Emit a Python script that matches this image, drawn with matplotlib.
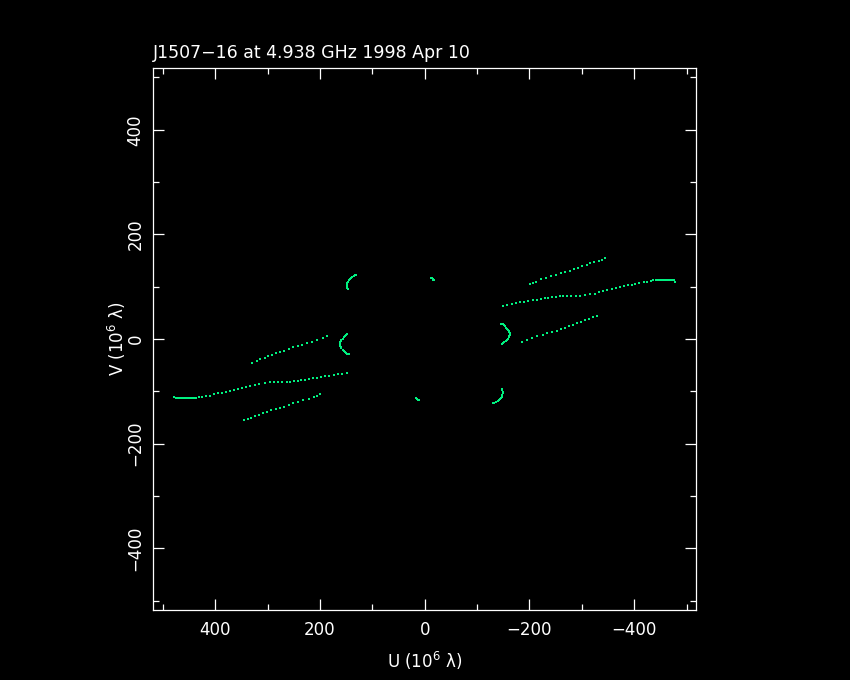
import matplotlib
matplotlib.use("Agg")
import matplotlib.pyplot as plt
import numpy as np
from matplotlib.ticker import MultipleLocator

plt.rcParams['font.family'] = ['DejaVu Sans']

title = "J1507\u221216 at 4.938 GHz 1998 Apr 10"
xlabel = "U (10$^{6}$ \u03bb)"
ylabel = "V (10$^{6}$ \u03bb)"

# UV tracks (one half; the conjugate half is (-u, -v)), units of 10^6 lambda
long_u = [478, 476, 474, 471, 468, 465, 462, 459, 456, 453, 450, 447, 444, 441, 436,
          432, 425, 418, 410, 402, 395, 388, 380, 372,
          365, 357, 349, 341, 333, 325, 316, 306, 296, 288, 280, 272, 264, 258, 250,
          243, 236, 229, 222, 214, 206, 198, 190, 182, 174, 166, 158, 149]
long_v = [-110, -112, -113, -113, -113, -113, -113, -113, -113, -113, -113, -113, -113,
          -112, -112, -111, -110, -109, -108, -106, -104, -103,
          -101, -99, -98, -96, -94, -91, -89, -87, -86, -84, -83, -83, -82, -82, -82,
          -82, -81, -80, -79, -78, -77, -75, -74, -73, -71, -70, -69, -67, -66, -64]

upper_u = [329, 321, 314, 306, 299, 291, 284, 276, 268, 260, 252, 243, 234, 225, 215, 205, 195, 186]
upper_v = [-45, -42, -39, -36, -33, -30, -27, -25, -22, -19, -16, -13, -11, -8, -5, -2, 2, 5]

lower_u = [345, 338, 332, 324, 316, 309, 301, 293, 285, 277, 268, 260, 251, 242, 232, 222, 212, 206, 201]
lower_v = [-155, -152, -150, -148, -146, -142, -139, -136, -134, -131, -129, -126, -123, -120, -117, -114, -110, -108, -106]

arcA_u = [131, 133, 136, 139, 141, 143, 145, 147, 148, 149, 149, 148, 147]
arcA_v = [123, 122, 120, 118, 116, 115, 113, 110, 107, 104, 101, 98, 95]

arcB_u = [148, 150, 152, 155, 157, 159, 160, 161, 162, 162, 161, 160, 159, 157, 155, 153, 151, 149, 147, 145]
arcB_v = [9, 8, 6, 3, 1, -1, -3, -5, -8, -11, -13, -16, -18, -20, -22, -25, -26, -28, -29, -29]

small_u = [17, 16, 15, 13, 12, 11]
small_v = [-113, -113, -114, -116, -116, -117]

tracks = [(long_u, long_v), (upper_u, upper_v), (lower_u, lower_v),
          (arcA_u, arcA_v), (arcB_u, arcB_v), (small_u, small_v)]

green = '#00f080'

fig = plt.figure(figsize=(8.5, 6.8), dpi=100, facecolor='black')
ax = fig.add_axes([0.18, 0.1029, 0.6388, 0.797], facecolor='black')

for u, v in tracks:
    u = np.asarray(u, float)
    v = np.asarray(v, float)
    ax.plot(u, v, 's', color=green, markersize=1.8, markeredgewidth=0)
    ax.plot(-u, -v, 's', color=green, markersize=1.8, markeredgewidth=0)

ax.set_xlim(519, -518)
ax.set_ylim(-518, 518)

for s in ax.spines.values():
    s.set_color('white')
    s.set_linewidth(0.9)

ax.xaxis.set_major_locator(MultipleLocator(200))
ax.xaxis.set_minor_locator(MultipleLocator(100))
ax.yaxis.set_major_locator(MultipleLocator(200))
ax.yaxis.set_minor_locator(MultipleLocator(100))
ax.tick_params(which='both', direction='in', colors='white', top=True, right=True,
               labelsize=12, width=0.9)
ax.tick_params(which='major', length=8)
ax.tick_params(axis='x', which='major', pad=8)
ax.tick_params(axis='y', which='major', pad=6)
ax.tick_params(which='minor', length=4)
for lbl in ax.get_yticklabels():
    lbl.set_rotation(90)
    lbl.set_va('center')

def fmt(x, pos):
    return ("%d" % x).replace('-', '\u2212')
ax.xaxis.set_major_formatter(plt.FuncFormatter(fmt))
ax.yaxis.set_major_formatter(plt.FuncFormatter(fmt))

ax.set_xlabel(xlabel, color='white', fontsize=12, labelpad=8)
ax.set_ylabel(ylabel, color='white', fontsize=12, labelpad=-1)
ax.set_title(title, color='white', fontsize=12.5, loc='left', pad=7)

fig.savefig('out.png', dpi=100, facecolor='black')
